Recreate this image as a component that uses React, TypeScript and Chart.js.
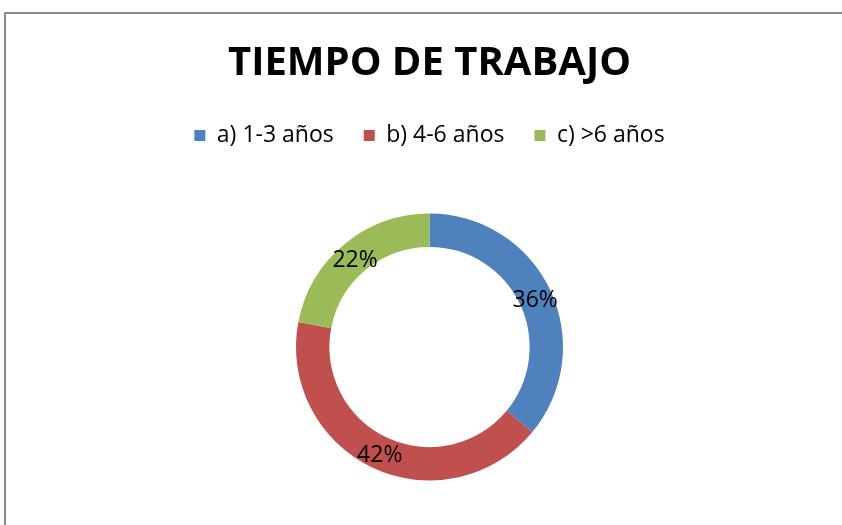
import React, { useEffect, useRef } from "react";
import { Chart, registerables } from "chart.js";

Chart.register(...registerables);

const chartTitle = "TIEMPO DE TRABAJO";
const categories = ["a) 1-3 años", "b) 4-6 años", "c) >6 años"];
const values = [36, 42, 22];
const colors = ["#4F81BD", "#C0504D", "#9BBB59"];

const FONT = "'Open Sans', 'Liberation Sans', sans-serif";

const pctLabels = {
  id: "pctLabels",
  afterDatasetsDraw(chart: any) {
    const ctx = chart.ctx;
    const meta = chart.getDatasetMeta(0);
    const data = chart.data.datasets[0].data as number[];
    const total = data.reduce((a, b) => a + b, 0);
    ctx.save();
    ctx.font = `23px ${FONT}`;
    ctx.fillStyle = "#000000";
    ctx.textAlign = "center";
    ctx.textBaseline = "middle";
    meta.data.forEach((el: any, i: number) => {
      const p = el.tooltipPosition();
      ctx.fillText(Math.round((data[i] / total) * 100) + "%", p.x, p.y + 3);
    });
    ctx.restore();
  },
};

export default function App() {
  const ref = useRef<HTMLCanvasElement | null>(null);
  useEffect(() => {
    if (!ref.current) return;
    const chart = new Chart(ref.current, {
      type: "doughnut",
      data: {
        labels: categories,
        datasets: [
          {
            data: values,
            backgroundColor: colors,
            borderWidth: 0,
          } as any,
        ],
      },
      options: {
        animation: false,
        responsive: false,
        events: [],
        radius: 133.5,
        cutout: "75%",
        layout: { padding: { left: 17, right: 0, top: 0, bottom: 0 } },
        plugins: {
          tooltip: { enabled: false },
          title: {
            display: true,
            text: chartTitle,
            color: "#000000",
            font: { family: FONT, size: 40, weight: "bold" },
            padding: { top: 40, bottom: 6 },
          },
          legend: {
            display: true,
            position: "top",
            labels: {
              color: "#000000",
              font: { family: FONT, size: 23 },
              boxWidth: 11,
              boxHeight: 11,
              padding: 30,
            },
          },
        },
      } as any,
      plugins: [pctLabels],
    });
    return () => chart.destroy();
  }, []);
  return (
    <div
      style={{
        position: "fixed",
        left: 0,
        top: 0,
        width: 842,
        height: 525,
        overflow: "hidden",
        background: "#ffffff",
      }}
    >
      <div
        style={{
          position: "absolute",
          left: 4,
          top: 12,
          width: 900,
          height: 600,
          borderTop: "2px solid #8a8a8a",
          borderLeft: "2px solid #8a8a8a",
          boxSizing: "border-box",
        }}
      />
      <canvas
        ref={ref}
        width={842}
        height={537}
        style={{ position: "absolute", left: 0, top: 0, width: 842, height: 537 }}
      />
    </div>
  );
}
